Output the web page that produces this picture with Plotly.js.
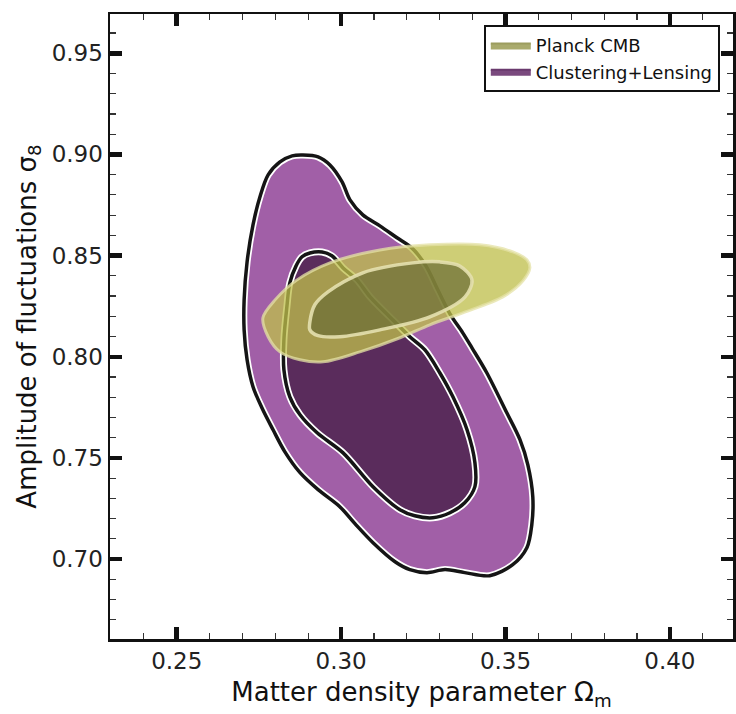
<!DOCTYPE html>
<html>
<head>
<meta charset="utf-8">
<script src="https://cdn.plot.ly/plotly-3.0.1.min.js"></script>
<style>
  html, body { margin: 0; padding: 0; background: #fff; }
  #chart { width: 736px; height: 714px; }
</style>
</head>
<body>
<div id="chart"></div>
<script>
// ---- Data ----
// Clustering+Lensing, outer (2-sigma) contour
const clOuterOm = [0.2884,0.2930,0.2966,0.3003,0.3027,0.3066,0.3118,0.3170,0.3215,0.3258,0.3294,0.3331,0.3370,0.3398,0.3443,0.3504,0.3544,0.3568,0.3583,0.3580,0.3565,0.3522,0.3452,0.3376,0.3316,0.3261,0.3209,0.3164,0.3097,0.3042,0.2996,0.2930,0.2875,0.2829,0.2793,0.2759,0.2732,0.2714,0.2705,0.2705,0.2714,0.2732,0.2753,0.2778,0.2814,0.2851,0.2884];
const clOuterS8 = [0.8997,0.8988,0.8948,0.8864,0.8775,0.8701,0.8647,0.8588,0.8538,0.8449,0.8331,0.8212,0.8118,0.8044,0.7921,0.7723,0.7590,0.7466,0.7308,0.7170,0.7056,0.6972,0.6918,0.6933,0.6948,0.6933,0.6948,0.6987,0.7081,0.7175,0.7259,0.7343,0.7427,0.7530,0.7639,0.7748,0.7852,0.7985,0.8133,0.8281,0.8469,0.8652,0.8790,0.8899,0.8963,0.8993,0.8997];
// Clustering+Lensing, inner (1-sigma) contour
const clInnerOm = [0.2905,0.2942,0.2972,0.3006,0.3048,0.3088,0.3148,0.3209,0.3255,0.3300,0.3340,0.3383,0.3407,0.3407,0.3376,0.3331,0.3279,0.3224,0.3179,0.3097,0.3006,0.2927,0.2875,0.2844,0.2826,0.2826,0.2835,0.2844,0.2863,0.2881,0.2905];
const clInnerS8 = [0.8513,0.8518,0.8499,0.8439,0.8380,0.8296,0.8197,0.8099,0.8034,0.7921,0.7802,0.7639,0.7476,0.7358,0.7278,0.7229,0.7204,0.7214,0.7244,0.7358,0.7525,0.7624,0.7713,0.7802,0.7936,0.8084,0.8247,0.8365,0.8449,0.8494,0.8513];
// Planck CMB, outer (2-sigma) contour
const plOuterOm = [0.2762,0.2799,0.2866,0.2966,0.3118,0.3270,0.3422,0.3522,0.3565,0.3574,0.3553,0.3492,0.3370,0.3270,0.3179,0.3057,0.2945,0.2875,0.2814,0.2778,0.2762];
const plOuterS8 = [0.8192,0.8281,0.8380,0.8464,0.8528,0.8553,0.8553,0.8518,0.8479,0.8439,0.8375,0.8296,0.8217,0.8158,0.8094,0.8024,0.7975,0.7985,0.8024,0.8099,0.8192];
// Planck CMB, inner (1-sigma) contour
const plInnerOm = [0.2905,0.2920,0.2960,0.3066,0.3218,0.3300,0.3361,0.3398,0.3377,0.3270,0.3118,0.2996,0.2930,0.2905,0.2905];
const plInnerS8 = [0.8173,0.8257,0.8321,0.8415,0.8464,0.8469,0.8449,0.8380,0.8296,0.8197,0.8133,0.8099,0.8104,0.8133,0.8173];

const legendNames = ["Planck CMB", "Clustering+Lensing"];
const xTickVals = [0.25, 0.30, 0.35, 0.40];
const xTickText = ["0.25", "0.30", "0.35", "0.40"];
const yTickVals = [0.70, 0.75, 0.80, 0.85, 0.90, 0.95];
const yTickText = ["0.70", "0.75", "0.80", "0.85", "0.90", "0.95"];

// ---- Styles ----
const purpleOuter = "#a15fa7";
const purpleInner = "#5a2c5c";
const font = "DejaVu Sans, sans-serif";
const sm = 0.9;

const traces = [
  // Clustering+Lensing outer: white halo + fill
  {x: clOuterOm, y: clOuterS8, type: "scatter", mode: "lines", fill: "toself",
   fillcolor: purpleOuter, line: {color: "#ffffff", width: 7, shape: "spline", smoothing: sm}, hoverinfo: "skip", showlegend: false},
  {x: clOuterOm, y: clOuterS8, type: "scatter", mode: "lines",
   line: {color: "#151515", width: 3.5, shape: "spline", smoothing: sm}, hoverinfo: "skip", showlegend: false},
  // Clustering+Lensing inner
  {x: clInnerOm, y: clInnerS8, type: "scatter", mode: "lines", fill: "toself",
   fillcolor: purpleInner, line: {color: "#ffffff", width: 7, shape: "spline", smoothing: sm}, hoverinfo: "skip", showlegend: false},
  {x: clInnerOm, y: clInnerS8, type: "scatter", mode: "lines",
   line: {color: "#151515", width: 3.5, shape: "spline", smoothing: sm}, hoverinfo: "skip", showlegend: false},
  // Planck outer
  {x: plOuterOm, y: plOuterS8, type: "scatter", mode: "lines", fill: "toself",
   fillcolor: "rgba(190,190,75,0.76)", line: {color: "rgba(228,226,165,0.75)", width: 3, shape: "spline", smoothing: sm},
   hoverinfo: "skip", showlegend: false},
  // Planck inner
  {x: plInnerOm, y: plInnerS8, type: "scatter", mode: "lines", fill: "toself",
   fillcolor: "rgba(108,110,52,0.72)", line: {color: "rgba(228,224,175,0.9)", width: 3.5, shape: "spline", smoothing: sm},
   hoverinfo: "skip", showlegend: false},
  // Legend entries
  {x: [null], y: [null], type: "scatter", mode: "lines", fill: "toself", name: legendNames[0],
   fillcolor: "#a9aa6c", line: {color: "#9c9c5e", width: 2}, showlegend: true},
  {x: [null], y: [null], type: "scatter", mode: "lines", fill: "toself", name: legendNames[1],
   fillcolor: "#7a4a7e", line: {color: "#6a3a6e", width: 2}, showlegend: true}
];

const axisCommon = {
  showgrid: false, zeroline: false,
  showline: true, linecolor: "#111", linewidth: 2.5, mirror: "ticks",
  ticks: "inside", ticklen: 12, tickwidth: 4.5, tickcolor: "#111",
  tickfont: {family: font, size: 23, color: "#222"},
  minor: {ticks: "inside", ticklen: 6, tickwidth: 1.2, tickcolor: "#333", dtick: 0.01, showgrid: false}
};

const layout = {
  width: 736, height: 714,
  margin: {l: 110, r: 3, t: 14, b: 75},
  paper_bgcolor: "#ffffff", plot_bgcolor: "#ffffff",
  showlegend: true,
  legend: {
    x: 0.600, y: 0.982, xanchor: "left", yanchor: "top",
    bgcolor: "#ffffff", bordercolor: "#111", borderwidth: 2,
    font: {family: font, size: 18, color: "#111"},
    itemwidth: 40, traceorder: "normal"
  },
  xaxis: Object.assign({}, axisCommon, {
    range: [0.2297, 0.4192],
    tickmode: "array", tickvals: xTickVals, ticktext: xTickText,
    title: {text: "Matter density parameter Ω<sub>m</sub>", font: {family: font, size: 26, color: "#111"}, standoff: 10}
  }),
  yaxis: Object.assign({}, axisCommon, {
    range: [0.6605, 0.9694],
    tickmode: "array", tickvals: yTickVals, ticktext: yTickText,
    title: {text: "Amplitude of fluctuations σ<sub>8</sub>", font: {family: font, size: 26, color: "#111"}, standoff: 8}
  })
};

Plotly.newPlot("chart", traces, layout, {displayModeBar: false, staticPlot: true});
</script>
</body>
</html>
